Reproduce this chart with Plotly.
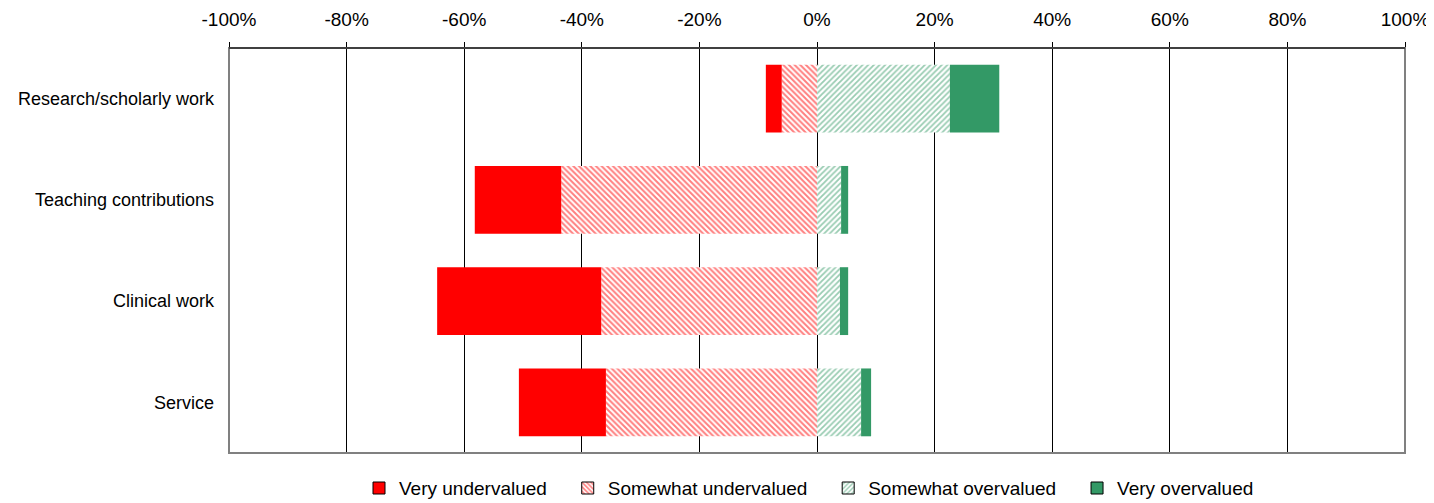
import plotly.graph_objects as go

# categories top to bottom
categories = ["Research/scholarly work", "Teaching contributions", "Clinical work", "Service"]

# shares (fractions of respondents)
very_under = [0.027, 0.147, 0.279, 0.148]
somewhat_under = [0.060, 0.435, 0.367, 0.359]
somewhat_over = [0.226, 0.041, 0.039, 0.075]
very_over = [0.084, 0.012, 0.014, 0.017]

tick_vals = [-1, -0.8, -0.6, -0.4, -0.2, 0, 0.2, 0.4, 0.6, 0.8, 1]
tick_text = ["-100%", "-80%", "-60%", "-40%", "-20%", "0%", "20%", "40%", "60%", "80%", "100%"]

RED = "#ff0000"
GREEN = "#339966"
FONT = "Liberation Sans, Arial, sans-serif"
PAD = "\u00a0\u00a0\u00a0"  # a little extra room between legend entries

fig = go.Figure()

# negative side stacks outward from zero in trace order, so somewhat first
fig.add_trace(go.Bar(y=categories, x=[-v for v in somewhat_under], orientation="h", width=0.67,
                     marker=dict(color="white", line=dict(width=0),
                                 pattern=dict(shape="\\", fgcolor=RED, bgcolor="white", size=4, solidity=0.5)),
                     showlegend=False, hoverinfo="skip"))
fig.add_trace(go.Bar(y=categories, x=[-v for v in very_under], orientation="h", width=0.67,
                     marker=dict(color=RED, line=dict(width=0)), showlegend=False, hoverinfo="skip"))
fig.add_trace(go.Bar(y=categories, x=somewhat_over, orientation="h", width=0.67,
                     marker=dict(color="white", line=dict(width=0),
                                 pattern=dict(shape="/", fgcolor=GREEN, bgcolor="white", size=4, solidity=0.45)),
                     showlegend=False, hoverinfo="skip"))
fig.add_trace(go.Bar(y=categories, x=very_over, orientation="h", width=0.67,
                     marker=dict(color=GREEN, line=dict(width=0)), showlegend=False, hoverinfo="skip"))

# legend-only entries, with the black outline the swatches have
legend_items = [
    ("Very undervalued", dict(color=RED)),
    ("Somewhat undervalued", dict(color="white", pattern=dict(shape="\\", fgcolor=RED, bgcolor="white", size=4, solidity=0.5))),
    ("Somewhat overvalued", dict(color="white", pattern=dict(shape="/", fgcolor=GREEN, bgcolor="white", size=4, solidity=0.45))),
    ("Very overvalued", dict(color=GREEN)),
]
for name, mk in legend_items:
    mk["line"] = dict(color="black", width=1)
    fig.add_trace(go.Bar(y=[None], x=[None], orientation="h", name=name + PAD, marker=mk, hoverinfo="skip"))

# page body has an 8px margin, so the figure is a bit smaller and margins shifted
fig.update_layout(
    barmode="relative",
    width=1426, height=495,
    margin=dict(l=221, r=29, t=40, b=50),
    paper_bgcolor="white", plot_bgcolor="white",
    font=dict(family=FONT, size=18, color="black"),
    legend=dict(orientation="h", x=0.5, xanchor="center", yref="container", y=0.03, yanchor="middle",
                font=dict(size=19), itemwidth=30, traceorder="normal"),
    xaxis=dict(side="top", range=[-1, 1], tickvals=tick_vals, ticktext=tick_text,
               showgrid=True, gridcolor="black", gridwidth=1, zeroline=False,
               showline=True, linecolor="black", linewidth=1, automargin=False,
               ticks="outside", ticklen=5, tickcolor="black", ticklabelstandoff=8,
               tickfont=dict(size=19), fixedrange=True),
    yaxis=dict(categoryorder="array", categoryarray=categories, autorange="reversed", automargin=False,
               showgrid=False, zeroline=False, showline=False, ticks="", ticklabelstandoff=14),
    shapes=[dict(type="rect", xref="paper", yref="paper", x0=0, x1=1, y0=0, y1=1,
                 line=dict(color="#808080", width=2), layer="above")],
)

# top edge is black in the original
fig.add_shape(type="line", xref="paper", yref="paper", x0=0, x1=1, y0=1, y1=1,
              line=dict(color="black", width=1), layer="above")

fig.write_html("out.html")
